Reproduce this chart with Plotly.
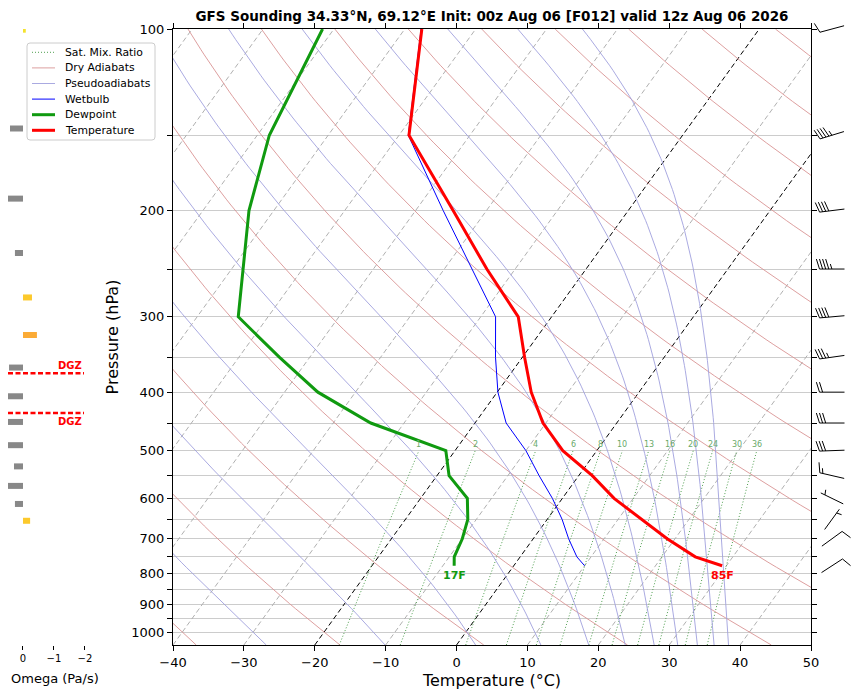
import numpy as np
import plotly.graph_objects as go

# ---- sounding values (hPa, degC) ----
pressure = [100, 150, 200, 250, 300, 350, 400, 450, 500, 550, 600, 650, 700, 750, 776]
temperature = [-67.6, -58.6, -44.7, -34.0, -24.7, -19.7, -15.2, -10.4, -4.8, 1.9, 7.3, 13.4, 18.9, 24.7, 29.4]
dewpoint = [-81.6, -78.3, -73.5, -68.4, -64.2, -54.3, -45.3, -34.7, -21.3, -18.3, -13.4, -11.2, -10.0, -9.3, -8.4]
wetbulb = [-67.7, -58.7, -46.1, -36.1, -27.9, -23.8, -19.9, -15.6, -10.0, -5.6, -1.4, 2.1, 5.0, 8.0, 10.0]

# winds (kt, direction wind comes from)
wind_pressure = [100, 150, 200, 250, 300, 350, 400, 450, 500, 550, 600, 650, 700, 776]
wind_speed = [10, 45, 40, 45, 40, 35, 20, 30, 30, 15, 5, 5, 10, 10]
wind_dir = [255, 253, 263, 270, 265, 262, 270, 270, 268, 283, 296, 36, 54, 57]

# omega (Pa/s)
omega_pressure = [100, 150, 200, 250, 300, 350, 400, 450, 500, 550, 600, 650, 700, 750]
omega = [-0.09, 0.42, 0.6, 0.26, -0.29, -0.45, 0.45, 0.6, 0.6, 0.6, 0.29, 0.6, 0.26, -0.23]

dgz_pressure = [372, 433]
surface_labels = ["17F", "85F"]

# background reference lines
isotherms = list(range(-100, 51, 10))
dark_isotherms = [-20, 0]
dry_adiabats = list(range(-60, 241, 20))      # theta (degC) at 1000 hPa
pseudo_adiabats = list(range(244, 445, 20))   # theta-e (K)
mixing_ratios = [1, 2, 4, 6, 8, 10, 13, 16, 20, 24, 30, 36]  # g/kg

title = "GFS Sounding 34.33°N, 69.12°E Init: 00z Aug 06 [F012] valid 12z Aug 06 2026"

# line styles, shared by the traces and the hand-drawn legend
STYLE = {
    "Sat. Mix. Ratio": dict(color="#4f9f4f", width=1, dash="1px,2px"),
    "Dry Adiabats": dict(color="#d99494", width=0.9),
    "Pseudoadiabats": dict(color="#a0a0de", width=0.9),
    "Wetbulb": dict(color="#0000ff", width=1),
    "Dewpoint": dict(color="#109a10", width=3),
    "Temperature": dict(color="#ff0000", width=3),
}

# ---- geometry (page has an 8px body margin, so the figure is laid out 8px up/left) ----
OFF = 8
W, H = 859 - OFF, 696 - OFF
L_PX, R_PX, T_PX, B_PX = 173 - OFF, 811 - OFF, 29 - OFF, 645 - OFF
P_BOT, P_TOP = 1050, 100
SKEW = 61.4
PX_PER_DEC = (B_PX - T_PX) / np.log10(P_BOT / P_TOP)
FONT = "DejaVu Sans"


def px(x):
    return (x - OFF) / W


def py(y):
    return 1 - (y - OFF) / H


def skew_x(t, p):
    return np.asarray(t, float) + SKEW * np.log10(P_BOT / np.asarray(p, float))


def sat_theta_e(tk, p):
    tc = tk - 273.15
    es = 6.112 * np.exp(17.67 * tc / (tc + 243.5))
    r = 622.0 * es / (p - es)
    return (tk * (1000.0 / p) ** (0.2854 * (1 - 0.00028 * r))
            * np.exp((3.376 / tk - 0.00254) * r * (1 + 0.00081 * r)))


def pseudo_temp(theta_e, p):
    lg = np.log(0.1 * p / 6.112)
    lo = np.full_like(p, 120.0)
    hi = 273.15 + 243.5 * lg / (17.67 - lg)
    for _ in range(60):
        mid = 0.5 * (lo + hi)
        above = sat_theta_e(mid, p) > theta_e
        hi = np.where(above, mid, hi)
        lo = np.where(above, lo, mid)
    return 0.5 * (lo + hi) - 273.15


def join(lines):
    xs, ys = [], []
    for x, p in lines:
        xs += list(x) + [None]
        ys += list(p) + [None]
    return xs, ys


p_full = np.logspace(np.log10(P_BOT), np.log10(P_TOP), 120)
p_low = np.logspace(np.log10(P_BOT), np.log10(500), 40)
ends = np.array([P_BOT, P_TOP], float)

fig = go.Figure()


def add_lines(x, y, style, **kw):
    fig.add_trace(go.Scatter(x=x, y=y, mode="lines", showlegend=False, hoverinfo="skip",
                             line=style, **kw))


# isotherms
gx, gy = join([(skew_x([t, t], ends), ends) for t in isotherms if t not in dark_isotherms])
add_lines(gx, gy, dict(color="#b0b0b0", width=1, dash="5px,3px"))
bx, by = join([(skew_x([t, t], ends), ends) for t in dark_isotherms])
add_lines(bx, by, dict(color="black", width=1, dash="5px,3px"))

# saturation mixing ratio
mix_lines = []
for w in mixing_ratios:
    e = w * p_low / (622.0 + w)
    lg = np.log(e / 6.112)
    mix_lines.append((skew_x(243.5 * lg / (17.67 - lg), p_low), p_low))
add_lines(*join(mix_lines), STYLE["Sat. Mix. Ratio"])

# dry adiabats
add_lines(*join([(skew_x((th + 273.15) * (p_full / 1000.0) ** 0.2857 - 273.15, p_full), p_full)
                 for th in dry_adiabats]), STYLE["Dry Adiabats"])

# pseudoadiabats
add_lines(*join([(skew_x(pseudo_temp(te, p_full), p_full), p_full) for te in pseudo_adiabats]),
          STYLE["Pseudoadiabats"])

# profiles
add_lines(skew_x(wetbulb, pressure), pressure, STYLE["Wetbulb"])
add_lines(skew_x(dewpoint, pressure), pressure, STYLE["Dewpoint"])
add_lines(skew_x(temperature, pressure), pressure, STYLE["Temperature"])

# omega bars (left panel)
for p, w in zip(omega_pressure, omega):
    if w >= 0:
        col = "#888888"
    elif w > -0.15:
        col = "#f4e22c"
    elif w > -0.35:
        col = "#fcc92c"
    else:
        col = "#fbab36"
    add_lines([0, w], [p, p], dict(color=col, width=6), xaxis="x2", yaxis="y2")

# DGZ bounds, on a second y axis of the omega panel that uses the skew-T pressure scale
OMEGA_RANGE = [0.484, -2.035]
for p in dgz_pressure:
    add_lines([OMEGA_RANGE[0], -1.97], [p, p], dict(color="red", width=2.5, dash="5px,2.5px"),
              xaxis="x2", yaxis="y5")

# wind barbs (right strip), built in pixel units around each level
STAFF, BARB_H, BARB_W, SPACING, BARB_X = 25.0, 10.0, 6.25, 3.1, 21.0


def barb(p, spd, wdir):
    ux, uy = np.sin(np.radians(wdir)), np.cos(np.radians(wdir))
    rx, ry = uy, -ux
    tip = (BARB_X + ux * STAFF / 2, uy * STAFF / 2)
    base = (BARB_X - ux * STAFF / 2, -uy * STAFF / 2)
    segs = [(base, tip)]
    full, half = divmod(int(round(spd / 5.0)), 2)
    off = 0.0
    for _ in range(full):
        sx0, sy0 = tip[0] - ux * off, tip[1] - uy * off
        segs.append(((sx0, sy0), (sx0 + rx * BARB_H + ux * BARB_W / 2, sy0 + ry * BARB_H + uy * BARB_W / 2)))
        off += SPACING
    if half:
        if full == 0:
            off += 1.5 * SPACING
        sx0, sy0 = tip[0] - ux * off, tip[1] - uy * off
        segs.append(((sx0, sy0), (sx0 + rx * BARB_H / 2 + ux * BARB_W / 4, sy0 + ry * BARB_H / 2 + uy * BARB_W / 4)))
    xs, ys = [], []
    for (x0, y0), (x1, y1) in segs:
        xs += [x0, x1, None]
        ys += [p * 10 ** (-y0 / PX_PER_DEC), p * 10 ** (-y1 / PX_PER_DEC), None]
    return xs, ys


wx, wy = [], []
for p, s, d in zip(wind_pressure, wind_speed, wind_dir):
    a, b = barb(p, s, d)
    wx += a
    wy += b
add_lines(wx, wy, dict(color="black", width=1), xaxis="x3", yaxis="y4")

# ---- annotations ----
ann = []
for w, x in zip(mixing_ratios, [m[0][-1] for m in mix_lines]):
    ann.append(dict(x=x, y=np.log10(500), xref="x", yref="y", text=str(w), showarrow=False,
                    yanchor="bottom", yshift=0, font=dict(size=8, color="#6aaa6a")))
sfc_p = pressure[-1]
ann.append(dict(x=float(skew_x(dewpoint[-1], sfc_p)), y=np.log10(sfc_p), xref="x", yref="y",
                text="<b>%s</b>" % surface_labels[0], showarrow=False, yanchor="top", yshift=-1,
                font=dict(size=11, color="#109a10")))
ann.append(dict(x=float(skew_x(temperature[-1], sfc_p)), y=np.log10(sfc_p), xref="x", yref="y",
                text="<b>%s</b>" % surface_labels[1], showarrow=False, yanchor="top", yshift=-1,
                font=dict(size=11, color="red")))
ann.append(dict(x=px(84), y=np.log10(dgz_pressure[0]), xref="paper", yref="y", text="<b>DGZ</b>",
                showarrow=False, xanchor="right", yanchor="bottom", yshift=0,
                font=dict(size=10, color="red")))
ann.append(dict(x=px(84), y=np.log10(dgz_pressure[1]), xref="paper", yref="y", text="<b>DGZ</b>",
                showarrow=False, xanchor="right", yanchor="top", yshift=-1,
                font=dict(size=10, color="red")))
ann.append(dict(x=px(55), y=py(678), xref="paper", yref="paper", text="Omega (Pa/s)",
                showarrow=False, xanchor="center", yanchor="middle", font=dict(size=13)))

# ---- legend box drawn by hand (matplotlib-style spacing) ----
shapes = []
x0, x1, y0, y1, r = px(27), px(155), py(43), py(140), 3.0
rx_, ry_ = r / W, r / H
shapes.append(dict(
    type="path", xref="paper", yref="paper", layer="above",
    path=(f"M{x0 + rx_},{y0} L{x1 - rx_},{y0} Q{x1},{y0} {x1},{y0 - ry_} "
          f"L{x1},{y1 + ry_} Q{x1},{y1} {x1 - rx_},{y1} L{x0 + rx_},{y1} Q{x0},{y1} {x0},{y1 + ry_} "
          f"L{x0},{y0 - ry_} Q{x0},{y0} {x0 + rx_},{y0} Z"),
    fillcolor="rgba(255,255,255,0.85)", line=dict(color="#cccccc", width=1)))
for i, name in enumerate(STYLE):
    yy = py(52.3 + i * 15.6)
    shapes.append(dict(type="line", xref="paper", yref="paper", layer="above",
                       x0=px(32), x1=px(55), y0=yy, y1=yy, line=STYLE[name]))
    ann.append(dict(x=px(63), y=yy, xref="paper", yref="paper", text=name, showarrow=False,
                    xanchor="left", yanchor="middle", font=dict(size=10.8)))

ydom = [(H - B_PX) / H, (H - T_PX) / H]
ytick = list(range(100, 1001, 50))
main_yrange = [np.log10(P_BOT), np.log10(P_TOP)]
hidden = dict(visible=False, automargin=False, showgrid=False, zeroline=False)

fig.update_layout(
    template="none",
    width=W, height=H,
    margin=dict(l=0, r=0, t=0, b=0, autoexpand=False),
    paper_bgcolor="white", plot_bgcolor="white",
    showlegend=False,
    font=dict(family=FONT, color="black"),
    title=dict(text="<b>%s</b>" % title, x=(L_PX + R_PX) / 2 / W, y=py(16),
               xanchor="center", yanchor="middle", font=dict(size=13.5)),
    xaxis=dict(domain=[L_PX / W, R_PX / W], range=[-40, 50], anchor="y", automargin=False,
               tickvals=list(range(-40, 51, 10)), ticks="outside", ticklen=5, tickcolor="black",
               showline=True, linecolor="black", mirror="ticks", showgrid=False, zeroline=False,
               tickfont=dict(size=13), title=dict(text="Temperature (°C)", font=dict(size=16), standoff=6)),
    yaxis=dict(domain=ydom, type="log", range=main_yrange, anchor="x", automargin=False,
               tickvals=ytick, ticktext=[str(v) if v % 100 == 0 else "" for v in ytick],
               ticks="outside", ticklen=5, tickcolor="black", showline=True, linecolor="black",
               mirror="ticks", showgrid=True, gridcolor="#cccccc", gridwidth=1, zeroline=False,
               tickfont=dict(size=13), title=dict(text="Pressure (hPa)", font=dict(size=16), standoff=8)),
    xaxis2=dict(domain=[0, px(86)], range=OMEGA_RANGE, anchor="y2", automargin=False,
                tickvals=[0, -1, -2], ticks="outside", ticklen=4, tickcolor="black", showline=False,
                showgrid=False, zeroline=False, tickfont=dict(size=10)),
    yaxis2=dict(domain=ydom, type="log", range=[3.0964, 1.9988], anchor="x2", **hidden),
    yaxis5=dict(overlaying="y2", type="log", range=main_yrange, anchor="x2", **hidden),
    xaxis3=dict(domain=[R_PX / W, 1], range=[0, W - R_PX], anchor="y4", **hidden),
    yaxis4=dict(domain=[0, 1], type="log", anchor="x3",
                range=[np.log10(P_BOT) + (H - B_PX) / PX_PER_DEC, np.log10(P_TOP) - T_PX / PX_PER_DEC],
                **hidden),
    shapes=shapes,
    annotations=ann,
)

fig.write_html("out.html")
